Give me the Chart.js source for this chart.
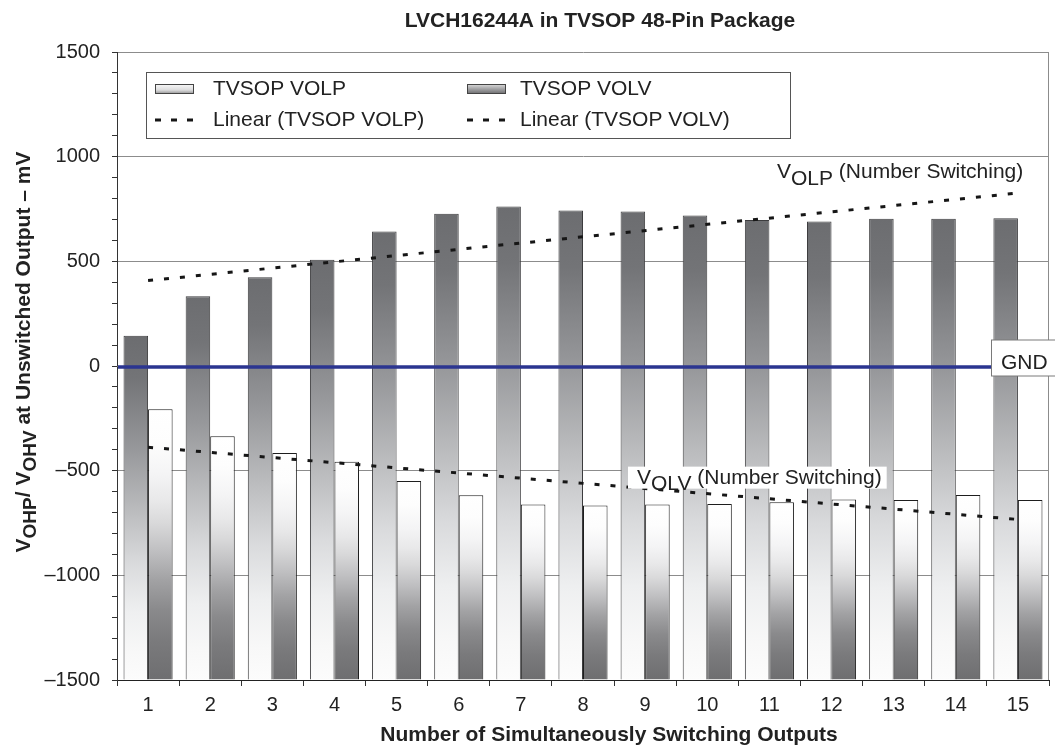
<!DOCTYPE html>
<html>
<head>
<meta charset="utf-8">
<title>LVCH16244A in TVSOP 48-Pin Package</title>
<script src="https://cdn.jsdelivr.net/npm/chart.js@4.4.1/dist/chart.umd.min.js"></script>
<style>
	body { margin: 0; background: #fff; }
	canvas { display: block; }
</style>
</head>
<body>
<canvas id="chart" width="1055" height="753"></canvas>
<script>
var outputs = ["1", "2", "3", "4", "5", "6", "7", "8", "9", "10", "11", "12", "13", "14", "15"];
var volp = [144, 333, 424, 507, 643, 727, 762, 743, 738, 719, 698, 690, 703, 703, 706];
var volv = [-207, -335, -416, -458, -549, -617, -662, -666, -662, -659, -651, -638, -640, -616, -640];

var volpTrend = [408, null, null, null, null, null, null, null, null, null, null, null, null, null, 826];
var volvTrend = [-388, null, null, null, null, null, null, null, null, null, null, null, null, null, -733];

var yMajorTicks = [-1500, -1000, -500, 0, 500, 1000, 1500];

var FONT = '"Liberation Sans", Arial, sans-serif';
var INK = "#222";

var VOLP_STOPS = [
	[0, "#6c6d70"], [0.12, "#737477"], [0.33, "#97989b"], [0.5, "#b9babc"],
	[0.66, "#d9dadc"], [0.8, "#eeeff0"], [0.92, "#f8f8f8"], [1, "#fcfcfc"]
];
var VOLV_STOPS = [
	[0, "#ffffff"], [0.12, "#fdfdfd"], [0.24, "#f4f4f5"], [0.34, "#e8e8e9"],
	[0.42, "#d9d9da"], [0.52, "#c0c0c2"], [0.63, "#a2a2a4"], [0.74, "#8a8a8c"],
	[0.86, "#7a7a7c"], [1, "#6e6e70"]
];

Chart.defaults.font.family = FONT;
Chart.defaults.color = INK;

// each bar gets its own gradient, running from its top down to the base
var barFill = function (c, stops) {
	var chart = c.chart;
	if (c.type !== "data" || !chart.chartArea || !chart.scales.y) {
		return stops[Math.floor(stops.length / 2)][1];
	}
	var y = chart.scales.y;
	var top = y.getPixelForValue(c.raw);
	var bottom = y.getPixelForValue(-1500);
	var g = chart.ctx.createLinearGradient(0, top, 0, bottom);
	stops.forEach(function (s) {
		g.addColorStop(s[0], s[1]);
	});
	return g;
};

var drawParts = function (ctx, parts, x, y) {
	parts.forEach(function (p) {
		ctx.font = p.font;
		ctx.fillText(p.text, x, y + (p.dy || 0));
		x += ctx.measureText(p.text).width;
	});
	return x;
};

var partsWidth = function (ctx, parts) {
	var w = 0;
	parts.forEach(function (p) {
		ctx.font = p.font;
		w += ctx.measureText(p.text).width;
	});
	return w;
};

var decorations = {
	id: "decorations",

	beforeDatasetsDraw: function (chart) {
		var ctx = chart.ctx;
		var area = chart.chartArea;

		// right edge of the plot frame
		ctx.save();
		ctx.strokeStyle = "#8c8c8c";
		ctx.lineWidth = 1;
		ctx.beginPath();
		ctx.moveTo(area.right - 0.5, area.top);
		ctx.lineTo(area.right - 0.5, area.bottom);
		ctx.stroke();
		ctx.restore();
	},

	afterDatasetsDraw: function (chart) {
		var ctx = chart.ctx;
		var area = chart.chartArea;
		var y0 = chart.scales.y.getPixelForValue(0);
		var gndLeft = area.right - 58;

		ctx.save();

		// GND reference line
		ctx.strokeStyle = "#2b3590";
		ctx.lineWidth = 3.5;
		ctx.beginPath();
		ctx.moveTo(area.left + 1, y0 + 1);
		ctx.lineTo(gndLeft, y0 + 1);
		ctx.stroke();

		ctx.fillStyle = "#fff";
		ctx.strokeStyle = "#7a7a7a";
		ctx.lineWidth = 1;
		ctx.fillRect(gndLeft + 0.5, y0 - 26, 80, 36);
		ctx.strokeRect(gndLeft + 0.5, y0 - 26, 80, 36);
		ctx.fillStyle = INK;
		ctx.font = "21px " + FONT;
		ctx.textBaseline = "middle";
		ctx.fillText("GND", gndLeft + 10, y0 - 3);

		// series captions with subscripts
		ctx.textBaseline = "alphabetic";
		var plain = "21px " + FONT;
		var olpY = chart.scales.y.getPixelForValue(896);
		drawParts(ctx, [
			{ text: "V", font: plain },
			{ text: "OLP", font: plain, dy: 7 },
			{ text: " (Number Switching)", font: plain }
		], area.left + 660, olpY);

		var olvParts = [
			{ text: "V", font: plain },
			{ text: "OLV", font: plain, dy: 6 },
			{ text: " (Number Switching)", font: plain }
		];
		var olvX = area.left + 520;
		var olvY = chart.scales.y.getPixelForValue(-562);
		ctx.fillStyle = "#fff";
		ctx.fillRect(olvX - 9, olvY - 17, partsWidth(ctx, olvParts) + 14, 22);
		ctx.fillStyle = INK;
		drawParts(ctx, olvParts, olvX, olvY);

		ctx.restore();
	},

	afterDraw: function (chart) {
		var ctx = chart.ctx;
		var area = chart.chartArea;
		var sets = chart.data.datasets;

		ctx.save();
		ctx.fillStyle = INK;

		// chart title and x axis title
		ctx.font = "bold 21px " + FONT;
		ctx.textAlign = "center";
		ctx.textBaseline = "middle";
		ctx.fillText("LVCH16244A in TVSOP 48-Pin Package", 600, 21);
		ctx.fillText("Number of Simultaneously Switching Outputs", 609, 735);

		// y axis title, rotated, with subscripts
		var bold = "bold 21px " + FONT;
		var sub = "bold 19px " + FONT;
		var yParts = [
			{ text: "V", font: bold },
			{ text: "OHP", font: sub, dy: 6 },
			{ text: "/ V", font: bold },
			{ text: "OHV", font: sub, dy: 6 },
			{ text: " at Unswitched Output \u2013 mV", font: bold }
		];
		ctx.textAlign = "left";
		ctx.textBaseline = "alphabetic";
		var w = partsWidth(ctx, yParts);
		ctx.save();
		ctx.translate(30, 352);
		ctx.rotate(-Math.PI / 2);
		drawParts(ctx, yParts, -w / 2, 0);
		ctx.restore();

		// legend box inside the plot
		var box = { x: area.left + 29, y: 72, w: 644, h: 66 };
		ctx.fillStyle = "#fff";
		ctx.fillRect(box.x, box.y, box.w, box.h);
		ctx.strokeStyle = "#555";
		ctx.lineWidth = 1;
		ctx.strokeRect(box.x + 0.5, box.y + 0.5, box.w, box.h);

		var colX = [box.x + 9, box.x + 321];
		var rowY = [box.y + 17, box.y + 48];
		var swatches = [
			[[0, "#fafafa"], [0.6, "#dcdcdd"], [1, "#8e8e90"]],
			[[0, "#dedede"], [0.5, "#a2a2a4"], [1, "#6a6a6c"]]
		];

		sets.forEach(function (ds, i) {
			var x = colX[i % 2];
			var y = rowY[Math.floor(i / 2)];
			if (ds.type === "line") {
				ctx.strokeStyle = "#161616";
				ctx.lineWidth = 3;
				ctx.setLineDash([6, 10]);
				ctx.beginPath();
				ctx.moveTo(x, y);
				ctx.lineTo(x + 38, y);
				ctx.stroke();
				ctx.setLineDash([]);
			} else {
				var g = ctx.createLinearGradient(0, y - 5, 0, y + 5);
				swatches[i % 2].forEach(function (s) {
					g.addColorStop(s[0], s[1]);
				});
				ctx.fillStyle = g;
				ctx.fillRect(x, y - 5, 39, 10);
				ctx.strokeStyle = "#444";
				ctx.lineWidth = 1;
				ctx.strokeRect(x + 0.5, y - 4.5, 38, 9);
			}
			ctx.fillStyle = INK;
			ctx.font = "21px " + FONT;
			ctx.textBaseline = "middle";
			ctx.fillText(ds.label, x + (i % 2 === 0 ? 58 : 53), y);
		});

		ctx.restore();
	}
};

new Chart(document.getElementById("chart"), {
	type: "bar",
	data: {
		labels: outputs,
		datasets: [
			{
				label: "TVSOP VOLP",
				data: volp,
				base: -1500,
				backgroundColor: function (c) { return barFill(c, VOLP_STOPS); },
				borderColor: "#3c3c3e",
				borderWidth: 1,
				order: 2
			},
			{
				label: "TVSOP VOLV",
				data: volv,
				base: -1500,
				backgroundColor: function (c) { return barFill(c, VOLV_STOPS); },
				borderColor: "#1e1e1e",
				borderWidth: 1,
				order: 2
			},
			{
				type: "line",
				label: "Linear (TVSOP VOLP)",
				data: volpTrend,
				spanGaps: true,
				borderColor: "#161616",
				borderWidth: 3,
				borderDash: [5, 11],
				borderCapStyle: "butt",
				pointRadius: 0,
				fill: false,
				order: 1
			},
			{
				type: "line",
				label: "Linear (TVSOP VOLV)",
				data: volvTrend,
				spanGaps: true,
				borderColor: "#161616",
				borderWidth: 3,
				borderDash: [5, 11],
				borderCapStyle: "butt",
				pointRadius: 0,
				fill: false,
				order: 1
			}
		]
	},
	options: {
		responsive: false,
		animation: false,
		layout: { padding: { top: 52, right: 6, bottom: 0, left: 0 } },
		datasets: {
			bar: { categoryPercentage: 0.79, barPercentage: 1 }
		},
		plugins: {
			legend: { display: false },
			title: { display: false },
			tooltip: { enabled: false }
		},
		scales: {
			x: {
				grid: { offset: true, drawOnChartArea: false, tickLength: 6, color: "#333" },
				border: { color: "#222" },
				ticks: { color: INK, font: { size: 20 }, padding: 7 },
				afterFit: function (scale) { scale.height = 73; }
			},
			y: {
				min: -1500,
				max: 1500,
				ticks: {
					stepSize: 100,
					autoSkip: false,
					padding: 12,
					color: INK,
					font: { size: 20 },
					callback: function (value) {
						if (yMajorTicks.indexOf(value) < 0) {
							return "";
						}
						return value < 0 ? "\u2013" + Math.abs(value) : String(value);
					}
				},
				grid: {
					color: function (c) {
						return c.tick && yMajorTicks.indexOf(c.tick.value) >= 0 ? "#8c8c8c" : "rgba(0,0,0,0)";
					},
					tickColor: "#333",
					tickLength: 5
				},
				border: { color: "#333" },
				afterFit: function (scale) { scale.width = 117; }
			}
		}
	},
	plugins: [decorations]
});
</script>
</body>
</html>
